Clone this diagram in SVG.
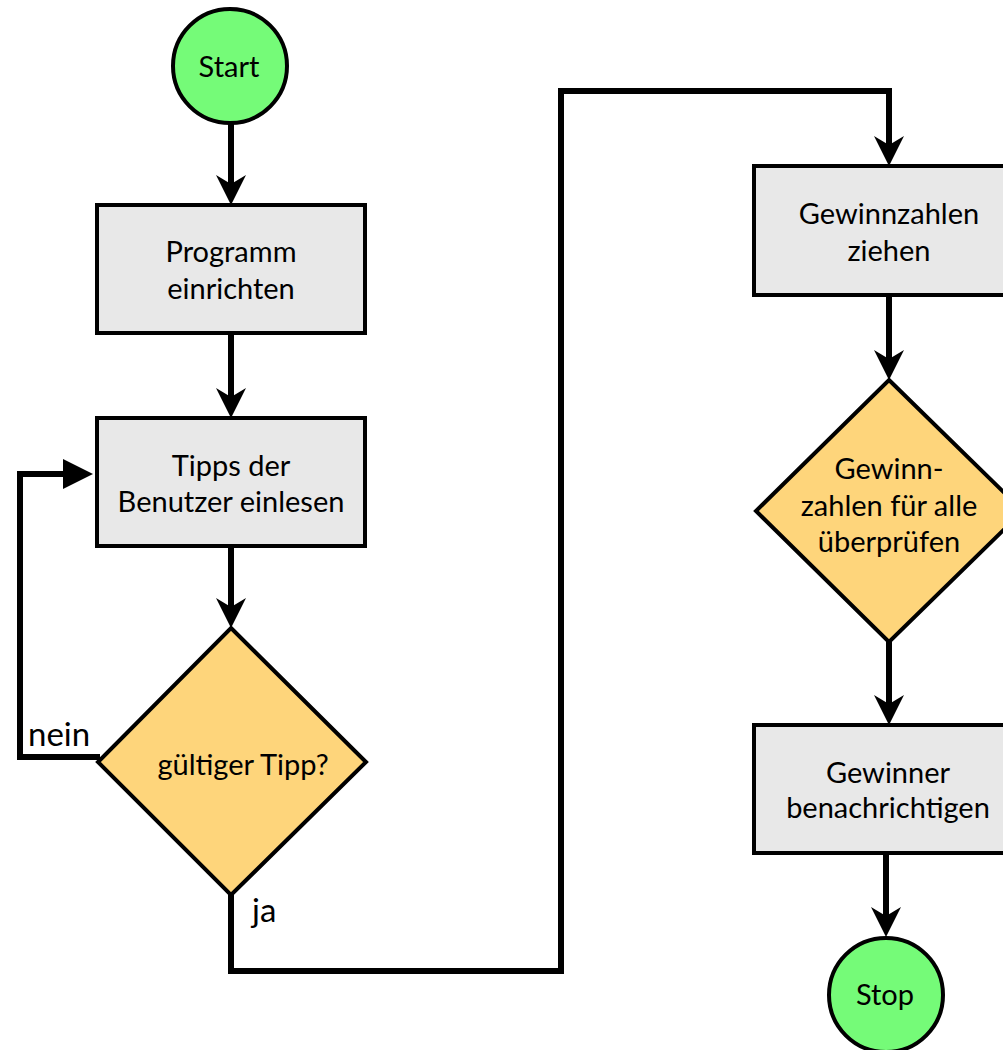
<svg xmlns="http://www.w3.org/2000/svg" width="1003" height="1050" viewBox="0 0 1003 1050">
<style>
text{font-family:Lato,"Open Sans","Liberation Sans",sans-serif;font-size:29px;fill:#000;text-anchor:middle}
.lbl{text-anchor:start;font-size:33px}
.box{fill:#e8e8e8;stroke:#000;stroke-width:4}
.dia{fill:#fed57b;stroke:#000;stroke-width:4}
.term{fill:#75fb78;stroke:#000;stroke-width:4}
.con{fill:none;stroke:#000;stroke-width:6;stroke-linejoin:miter;stroke-linecap:square}
</style>
<defs>
<marker id="a" viewBox="0 0 30 30" refX="10" refY="15" markerWidth="30" markerHeight="30" markerUnits="userSpaceOnUse" orient="auto">
<path d="M0,0 L30,15 L0,30 L9,15 Z" fill="#000"/>
</marker>
<marker id="t" viewBox="0 0 30 30" refX="10" refY="15" markerWidth="30" markerHeight="30" markerUnits="userSpaceOnUse" orient="auto">
<path d="M0,0 L30,15 L0,30 Z" fill="#000"/>
</marker>
</defs>
<g id="connectors">
<path class="con" d="M231,124 L231,185" marker-end="url(#a)"/>
<path class="con" d="M231,333 L231,398" marker-end="url(#a)"/>
<path class="con" d="M231,546 L231,608" marker-end="url(#a)"/>
<path class="con" d="M97,757 L20,757 L20,474 L73,474" marker-end="url(#t)"/>
<path class="con" d="M231,895 L231,971 L561,971 L561,91 L889,91 L889,146" marker-end="url(#a)"/>
<path class="con" d="M889,295 L889,360" marker-end="url(#a)"/>
<path class="con" d="M889,642 L889,705" marker-end="url(#a)"/>
<path class="con" d="M886,853 L886,917" marker-end="url(#a)"/>
<text class="lbl" x="28" y="746">nein</text>
<text class="lbl" x="252" y="922">ja</text>
</g>
<g id="start">
<circle class="term" cx="230" cy="66" r="57"/>
<text x="229" y="77">Start</text>
</g>
<g id="programm">
<rect class="box" x="97" y="205" width="268" height="128"/>
<text x="231" y="262">Programm</text>
<text x="231" y="299">einrichten</text>
</g>
<g id="tipps">
<rect class="box" x="97" y="418" width="268" height="128"/>
<text x="231" y="476">Tipps der</text>
<text x="231" y="512">Benutzer einlesen</text>
</g>
<g id="gueltig">
<polygon class="dia" points="231,628 366,762 231,895 98,762"/>
<text x="243" y="775">gültiger Tipp?</text>
</g>
<g id="ziehen">
<rect class="box" x="754" y="166" width="270" height="129"/>
<text x="889" y="224">Gewinnzahlen</text>
<text x="889" y="261">ziehen</text>
</g>
<g id="pruefen">
<polygon class="dia" points="889,380 1023,511 889,642 756,511"/>
<text x="889" y="479">Gewinn-</text>
<text x="889" y="516">zahlen für alle</text>
<text x="889" y="552">überprüfen</text>
</g>
<g id="gewinner">
<rect class="box" x="754" y="725" width="270" height="128"/>
<text x="888" y="783">Gewinner</text>
<text x="888" y="818">benachrichtigen</text>
</g>
<g id="stop">
<circle class="term" cx="886" cy="995" r="57"/>
<text x="885" y="1005">Stop</text>
</g>
</svg>
